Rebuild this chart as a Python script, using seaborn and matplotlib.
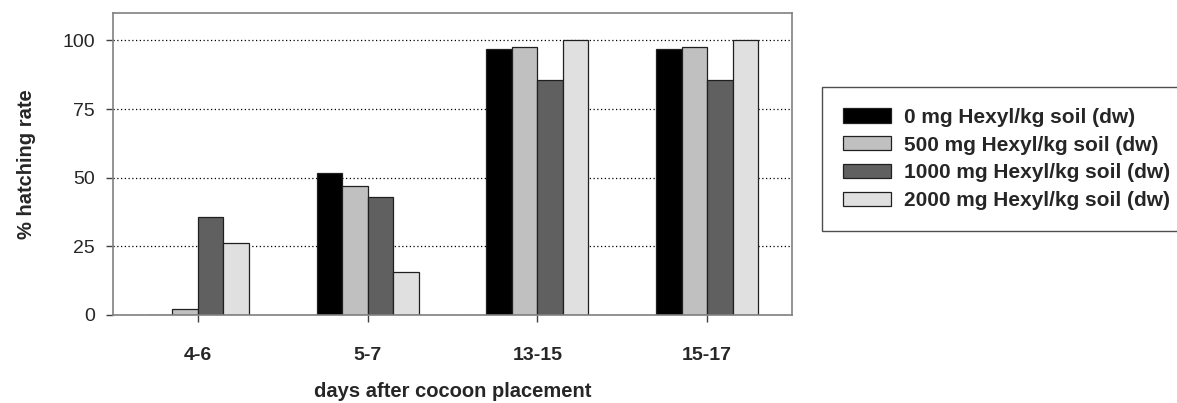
import pandas as pd
import numpy as np
import matplotlib
matplotlib.use('Agg')
import matplotlib.pyplot as plt
import seaborn as sns

# ====================
#  DATA
# ====================

days = ['4-6', '5-7', '13-15', '15-17']
treatments = ['0 mg Hexyl/kg soil (dw)', '500 mg Hexyl/kg soil (dw)',
              '1000 mg Hexyl/kg soil (dw)', '2000 mg Hexyl/kg soil (dw)']

rate_0 = [0, 51.7, 96.7, 96.7]
rate_500 = [2.3, 46.8, 97.7, 97.7]
rate_1000 = [35.7, 42.9, 85.7, 85.7]
rate_2000 = [26.3, 15.8, 100, 100]

colors = ['#000000', '#c0c0c0', '#606060', '#e0e0e0']

# ====================
#  PLOT
# ====================

def build_frame():
    rows = []
    for name, vals in zip(treatments, [rate_0, rate_500, rate_1000, rate_2000]):
        for d, v in zip(days, vals):
            rows.append({'days': d, 'treatment': name, 'rate': v})
    return pd.DataFrame(rows)


def plot_chart(data):
    sns.set_style('white')
    plt.rcParams['font.family'] = ['Liberation Sans', 'DejaVu Sans']

    fig = plt.figure(figsize=(11.77, 4.03), dpi=100)
    ax = fig.add_axes([0.0960, 0.2184, 0.5769, 0.7494])

    sns.barplot(data=data, x='days', y='rate', hue='treatment', order=days,
                hue_order=treatments, palette=colors, width=0.6, gap=0,
                edgecolor='#202020', linewidth=0.9, saturation=1, ax=ax,
                legend=True)

    ax.set_ylim(0, 110)
    ax.set_xlim(-0.5, 3.5)
    ax.set_yticks([0, 25, 50, 75, 100])
    ax.set_yticklabels(['0', '25', '50', '75', '100'], fontsize=14)
    ax.set_xticks(range(len(days)))
    ax.set_xticklabels(days, fontsize=14, fontweight='bold')

    ax.set_axisbelow(True)
    ax.yaxis.grid(True, color='black', linestyle=(0, (1, 2)), linewidth=0.9)
    ax.xaxis.grid(False)

    for sp in ax.spines.values():
        sp.set_visible(True)
        sp.set_color('#808080')
        sp.set_linewidth(1.2)

    ax.tick_params(axis='y', direction='out', length=5, width=1, color='#404040', pad=8, left=True)
    ax.tick_params(axis='x', direction='out', length=5, width=1, color='#404040', pad=18, bottom=True)

    ax.set_xlabel('days after cocoon placement', fontsize=14.5, fontweight='bold')
    ax.set_ylabel('% hatching rate', fontsize=14.5, fontweight='bold')
    ax.xaxis.set_label_coords(0.5, -0.255)
    ax.yaxis.set_label_coords(-0.128, 0.5)
    ax.xaxis.label.set_va('center')
    ax.yaxis.label.set_va('center')

    handles, labels = ax.get_legend_handles_labels()
    ax.legend_.remove()
    leg = fig.legend(handles, labels, loc='upper left',
                     bbox_to_anchor=(822 / 1177, 1 - 87 / 403),
                     bbox_transform=fig.transFigure, borderaxespad=0,
                     frameon=True, fancybox=False, shadow=False,
                     prop={'weight': 'bold', 'size': 15},
                     handlelength=2.3, handleheight=0.67, handletextpad=0.62,
                     labelspacing=0.42, borderpad=1.0)
    leg.get_frame().set_edgecolor('#202020')
    leg.get_frame().set_linewidth(1.0)

    fig.savefig('out.png', dpi=100)
    plt.close(fig)


def main():
    data = build_frame()
    plot_chart(data)


if __name__ == '__main__':
    main()
